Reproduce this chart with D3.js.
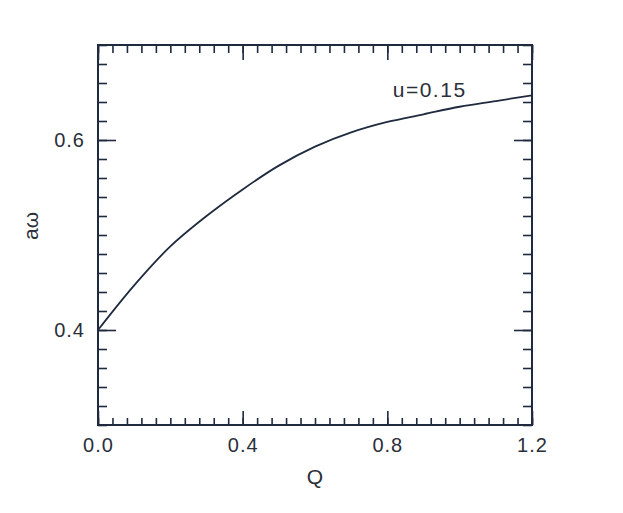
<!DOCTYPE html>
<html>
<head>
<meta charset="utf-8">
<script src="https://cdn.jsdelivr.net/npm/d3@7"></script>
<style>
  body { margin: 0; background: #fff; }
  text { font-family: "Liberation Sans", Arial, sans-serif; fill: #2a2f3a; }
</style>
</head>
<body>
<svg id="chart" width="623" height="513"></svg>
<script>
// curve values
const qValues = [0, 0.1, 0.2, 0.3, 0.4, 0.5, 0.6, 0.7, 0.8, 0.9, 1.0, 1.1, 1.2];
const awValues = [0.400, 0.447, 0.488, 0.520, 0.548, 0.573, 0.593, 0.608, 0.619, 0.627, 0.635, 0.641, 0.647];

const xMajor = [0, 0.4, 0.8, 1.2];
const xLabels = ["0.0", "0.4", "0.8", "1.2"];
const yMajor = [0.4, 0.6];
const yLabels = ["0.4", "0.6"];
const curveLabel = "u=0.15";

const svg = d3.select("#chart");
const mLeft = 98, mRight = 532, mTop = 45, mBottom = 425;
const ink = "#1f2a3f";

const x = d3.scaleLinear().domain([0, 1.2]).range([mLeft, mRight]);
const y = d3.scaleLinear().domain([0.3, 0.7]).range([mBottom, mTop]);

const xMinor = d3.range(31).map(i => +(i * 0.04).toFixed(2));
const yMinor = d3.range(21).map(i => +(0.3 + i * 0.02).toFixed(2));

function style(g) {
    g.select(".domain").remove();
    g.selectAll("line").attr("stroke", ink).attr("stroke-width", 1.6);
    g.selectAll("text").attr("font-size", 20).attr("letter-spacing", 1).attr("fill", "#2a2f3a");
}

// bottom
svg.append("g").attr("transform", `translate(0,${mBottom})`)
    .call(d3.axisBottom(x).tickValues(xMinor).tickSize(-7).tickFormat(""))
    .call(style);
svg.append("g").attr("transform", `translate(0,${mBottom})`)
    .call(d3.axisBottom(x).tickValues(xMajor).tickSize(-14).tickPadding(13)
        .tickFormat((d, i) => xLabels[i]))
    .call(style);
// top
svg.append("g").attr("transform", `translate(0,${mTop})`)
    .call(d3.axisTop(x).tickValues(xMinor).tickSize(-8).tickFormat(""))
    .call(style);
svg.append("g").attr("transform", `translate(0,${mTop})`)
    .call(d3.axisTop(x).tickValues(xMajor).tickSize(-15).tickFormat(""))
    .call(style);
// left
svg.append("g").attr("transform", `translate(${mLeft},0)`)
    .call(d3.axisLeft(y).tickValues(yMinor).tickSize(-9).tickFormat(""))
    .call(style);
svg.append("g").attr("transform", `translate(${mLeft},0)`)
    .call(d3.axisLeft(y).tickValues(yMajor).tickSize(-18).tickPadding(13)
        .tickFormat((d, i) => yLabels[i]))
    .call(style);
// right
svg.append("g").attr("transform", `translate(${mRight},0)`)
    .call(d3.axisRight(y).tickValues(yMinor).tickSize(-9).tickFormat(""))
    .call(style);
svg.append("g").attr("transform", `translate(${mRight},0)`)
    .call(d3.axisRight(y).tickValues(yMajor).tickSize(-18).tickFormat(""))
    .call(style);

// frame
svg.append("rect")
    .attr("x", mLeft).attr("y", mTop)
    .attr("width", mRight - mLeft).attr("height", mBottom - mTop)
    .attr("fill", "none").attr("stroke", ink).attr("stroke-width", 2);

// curve
const line = d3.line()
    .x((d, i) => x(qValues[i]))
    .y(d => y(d))
    .curve(d3.curveCatmullRom);

svg.append("path")
    .datum(awValues)
    .attr("d", line)
    .attr("fill", "none")
    .attr("stroke", ink)
    .attr("stroke-width", 1.8);

svg.append("text")
    .attr("x", x(0.815)).attr("y", y(0.645))
    .attr("font-size", 21).attr("letter-spacing", 1.5)
    .text(curveLabel);

// axis titles
svg.append("text")
    .attr("x", x(0.6)).attr("y", 484)
    .attr("text-anchor", "middle")
    .attr("font-size", 21)
    .text("Q");

svg.append("text")
    .attr("transform", "translate(38,226) rotate(-90)")
    .attr("text-anchor", "middle")
    .attr("font-size", 21)
    .text("aω");
</script>
</body>
</html>
